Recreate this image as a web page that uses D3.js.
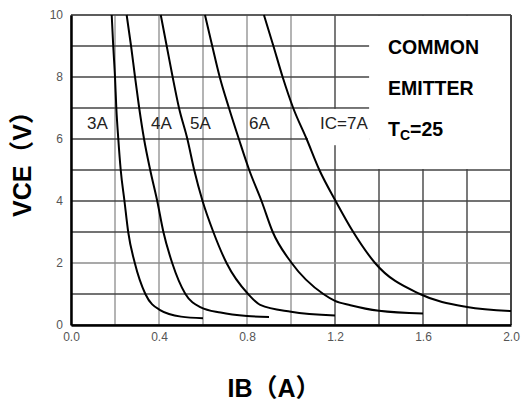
<!DOCTYPE html>
<html>
<head>
<meta charset="utf-8">
<script src="https://cdn.jsdelivr.net/npm/d3@7"></script>
<style>
  body { margin: 0; background: #fff; }
  svg { display: block; font-family: "Liberation Sans", Arial, "Noto Sans CJK SC", sans-serif; }
</style>
</head>
<body>
<div id="chart"></div>
<script>
// curves: IB (A) and VCE (V)
var ib3A = [0.185, 0.192, 0.2, 0.206, 0.215, 0.226, 0.243, 0.26, 0.29, 0.338, 0.405, 0.5, 0.6];
var vce3A = [10, 9, 8, 7, 6, 5, 4, 3, 2, 1, 0.48, 0.27, 0.22];
var ib4A = [0.253, 0.273, 0.291, 0.31, 0.332, 0.36, 0.392, 0.42, 0.46, 0.52, 0.59, 0.68, 0.8, 0.9];
var vce4A = [10, 9, 8, 7, 6, 5, 4, 3, 2, 1, 0.57, 0.4, 0.29, 0.26];
var ib5A = [0.408, 0.435, 0.462, 0.491, 0.529, 0.56, 0.598, 0.647, 0.707, 0.805, 0.86, 1.0, 1.2];
var vce5A = [10, 9, 8, 7, 6, 5, 4, 3, 2, 1, 0.65, 0.43, 0.31];
var ib6A = [0.609, 0.642, 0.676, 0.718, 0.763, 0.81, 0.866, 0.917, 1.003, 1.147, 1.2, 1.27, 1.4, 1.6];
var vce6A = [10, 9, 8, 7, 6, 5, 4, 3, 2, 1, 0.78, 0.64, 0.46, 0.37];
var ib7A = [0.877, 0.92, 0.962, 1.01, 1.071, 1.129, 1.203, 1.283, 1.382, 1.586, 1.8, 2.0];
var vce7A = [10, 9, 8, 7, 6, 5, 4, 3, 2, 1, 0.58, 0.45];

var curveLabels = ['3A', '4A', '5A', '6A', 'IC=7A'];
var labelIB = [0.073, 0.364, 0.541, 0.809, 1.132];
var labelV = 6.32;

var xTicks = [0, 0.4, 0.8, 1.2, 1.6, 2.0];
var yTicks = [0, 2, 4, 6, 8, 10];
var xGrid = d3.range(0, 11).map(function(i) { return i * 0.2; });
var yGrid = d3.range(0, 11);

var legendLines = ['COMMON', 'EMITTER'];

var margin = {top: 15, right: 10, bottom: 83, left: 71},
    width = 521 - margin.left - margin.right,
    height = 408 - margin.top - margin.bottom;

var x = d3.scaleLinear().domain([0, 2]).range([0, width]);
var y = d3.scaleLinear().domain([0, 10]).range([height, 0]);

var svg = d3.select('#chart').append('svg')
    .attr('width', 521)
    .attr('height', 408)
  .append('g')
    .attr('transform', 'translate(' + margin.left + ',' + margin.top + ')');

// grid
svg.selectAll('.vgrid').data(xGrid).enter().append('line')
    .attr('x1', function(d) { return x(d); })
    .attr('x2', function(d) { return x(d); })
    .attr('y1', 0).attr('y2', height)
    .style('stroke', function(d) { return d > 1.1 ? '#333' : '#8c8c8c'; })
    .style('stroke-width', '1.3px');

svg.selectAll('.hgrid').data(yGrid).enter().append('line')
    .attr('x1', 0).attr('x2', width)
    .attr('y1', function(d) { return y(d); })
    .attr('y2', function(d) { return y(d); })
    .style('stroke', function(d) { return d == 2 ? '#8c8c8c' : '#444'; })
    .style('stroke-width', '1.3px');

// white boxes behind the legend and the IC=7A label
svg.append('rect')
    .attr('x', x(1.355)).attr('y', y(10) + 1)
    .attr('width', x(2) - x(1.355)).attr('height', y(5) - y(10) - 2)
    .style('fill', '#fff');
svg.append('rect')
    .attr('x', x(1.077)).attr('y', y(6.97))
    .attr('width', x(1.355) - x(1.077)).attr('height', y(5.8) - y(6.97))
    .style('fill', '#fff');

// frame
svg.append('line').attr('x1', 0).attr('x2', width).attr('y1', 0).attr('y2', 0)
    .style('stroke', '#555').style('stroke-width', '1.5px');
svg.append('line').attr('x1', width).attr('x2', width).attr('y1', 0).attr('y2', height)
    .style('stroke', '#444').style('stroke-width', '2px');

// axes
var yAxis = svg.append('g')
    .call(d3.axisLeft(y).tickValues(yTicks).tickSize(0).tickPadding(8).tickFormat(d3.format('d')));
var xAxis = svg.append('g')
    .attr('transform', 'translate(0,' + height + ')')
    .call(d3.axisBottom(x).tickValues(xTicks).tickSize(0).tickPadding(7).tickFormat(d3.format('.1f')));

[xAxis, yAxis].forEach(function(a) {
  a.select('.domain').style('stroke', '#000').style('stroke-width', '2.5px');
  a.selectAll('text')
    .style('font-family', '"Liberation Sans", Arial, sans-serif')
    .style('font-size', '12px')
    .style('fill', '#555');
});

// curves
var valueline = d3.line()
    .x(function(d) { return x(d[0]); })
    .y(function(d) { return y(d[1]); })
    .curve(d3.curveMonotoneX);

function pts(ib, vce) { return ib.map(function(v, i) { return [v, vce[i]]; }); }

[[ib3A, vce3A], [ib4A, vce4A], [ib5A, vce5A], [ib6A, vce6A], [ib7A, vce7A]].forEach(function(c) {
  svg.append('path')
      .datum(pts(c[0], c[1]))
      .attr('d', valueline)
      .style('fill', 'none')
      .style('stroke', '#000')
      .style('stroke-width', '2px');
});

// curve labels
svg.selectAll('.clabel').data(curveLabels).enter().append('text')
    .attr('x', function(d, i) { return x(labelIB[i]); })
    .attr('y', y(labelV))
    .style('font-size', '17px')
    .style('fill', '#222')
    .text(function(d) { return d; });

// legend text
svg.selectAll('.leg').data(legendLines).enter().append('text')
    .attr('x', 388 - margin.left)
    .attr('y', function(d, i) { return 54 - margin.top + i * 41; })
    .style('font-size', '19.5px')
    .style('font-weight', 'bold')
    .text(function(d) { return d; });

var tc = svg.append('text')
    .attr('x', 388 - margin.left)
    .attr('y', 136 - margin.top)
    .style('font-size', '19.5px')
    .style('font-weight', 'bold');
tc.append('tspan').text('T');
tc.append('tspan').attr('dy', 4).style('font-size', '14px').text('C');
tc.append('tspan').attr('dy', -4).text('=25');

// axis titles
d3.select('svg').append('text')
    .attr('transform', 'translate(31,158) rotate(-90)')
    .attr('text-anchor', 'middle')
    .style('font-size', '25px')
    .style('font-weight', 'bold')
    .text('VCE（V）');

d3.select('svg').append('text')
    .attr('x', 274)
    .attr('y', 397)
    .attr('text-anchor', 'middle')
    .style('font-size', '25px')
    .style('font-weight', 'bold')
    .text('IB（A）');
</script>
</body>
</html>
